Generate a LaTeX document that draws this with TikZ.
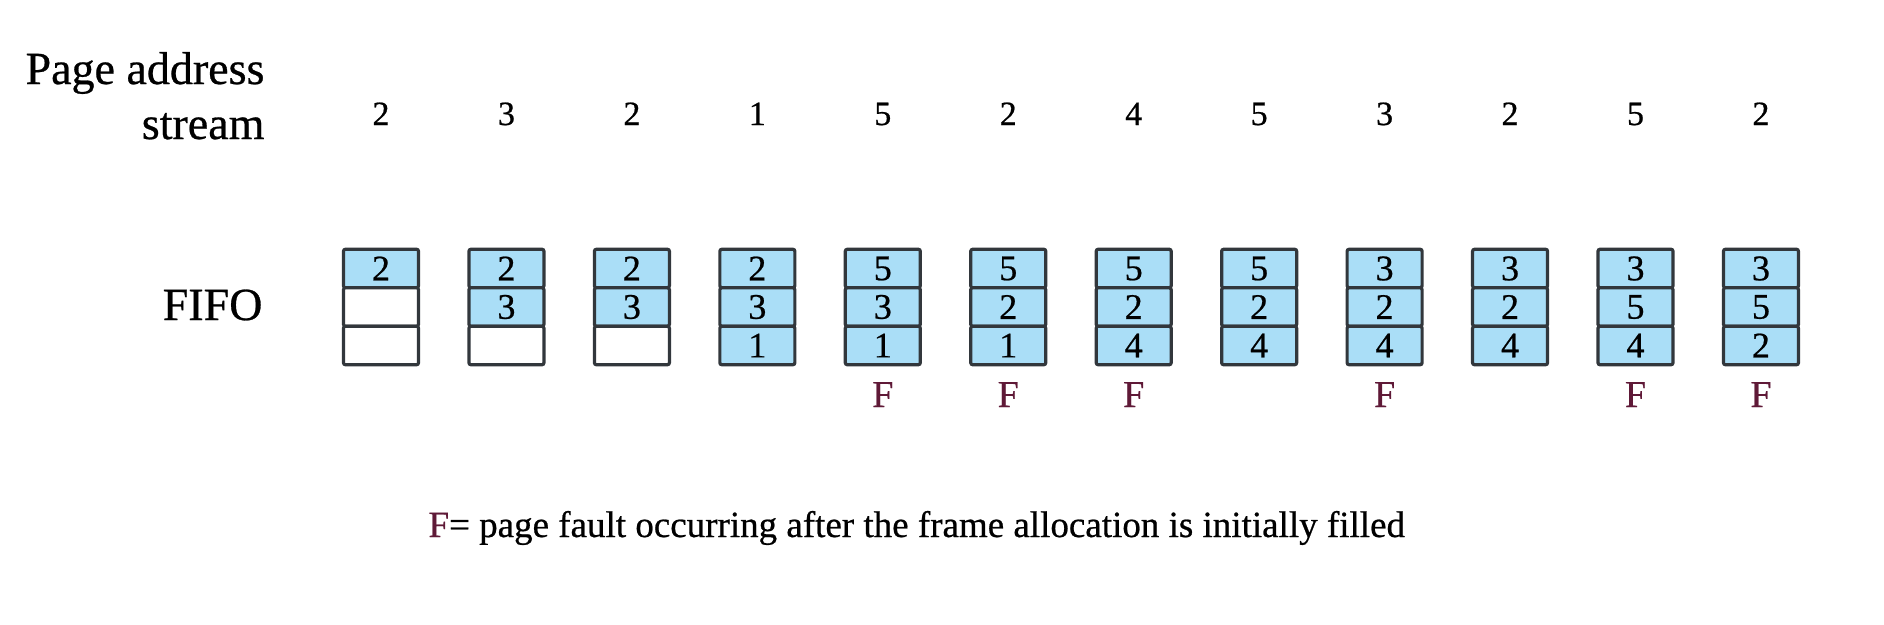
\documentclass[tikz,border=0pt]{standalone}
\usepackage{fontspec}
\setmainfont[FakeBold=0.6]{Liberation Serif}
\definecolor{cellblue}{RGB}{170,222,247}
\definecolor{framegray}{RGB}{50,55,60}
\definecolor{fault}{RGB}{95,25,55}
\begin{document}
\begin{tikzpicture}[x=1pt,y=-1pt,
  cell/.style={draw=framegray, line width=3.2pt, rounded corners=2pt,
    minimum width=75pt, minimum height=38.5pt, inner sep=0pt,
    font=\fontsize{36}{40}\selectfont, fill=cellblue},
  emptycell/.style={cell, fill=white},
  addr/.style={font=\fontsize{34}{40}\selectfont, anchor=base},
  lbl/.style={font=\fontsize{46}{55}\selectfont, anchor=base east},
  fmark/.style={font=\fontsize{38}{40}\selectfont, text=fault, anchor=base},
  note/.style={font=\fontsize{37}{40}\selectfont, anchor=base west}]
\useasboundingbox (0,0) rectangle (1884,624);

\node[lbl] (lbl1) at (268,84) {Page address};
\node[lbl] (lbl2) at (268,139) {stream};
\node[lbl] (lbl3) at (266,320) {FIFO};

\foreach \i/\a/\t/\m/\ms/\b/\bs in {
  1/2/2/{}/emptycell/{}/emptycell,
  2/3/2/3/cell/{}/emptycell,
  3/2/2/3/cell/{}/emptycell,
  4/1/2/3/cell/1/cell,
  5/5/5/3/cell/1/cell,
  6/2/5/2/cell/1/cell,
  7/4/5/2/cell/4/cell,
  8/5/5/2/cell/4/cell,
  9/3/3/2/cell/4/cell,
  10/2/3/2/cell/4/cell,
  11/5/3/5/cell/4/cell,
  12/2/3/5/cell/2/cell}{
  \pgfmathsetmacro\xx{381+125.45*(\i-1)}
  \node[addr] (a\i) at (\xx,125) {\a};
  \node[cell] (c\i-1) at (\xx,268.5) {\t};
  \node[\ms] (c\i-2) at (\xx,307) {\m};
  \node[\bs] (c\i-3) at (\xx,345.5) {\b};
}

\foreach \i in {5,6,7,9,11,12}{
  \pgfmathsetmacro\xx{381+125.45*(\i-1)}
  \node[fmark] (f\i) at (\xx,407) {F};
}

\node[note] (legend) at (425,537) {{\color{fault}F}= page fault occurring after the frame allocation is initially filled};
\end{tikzpicture}
\end{document}
